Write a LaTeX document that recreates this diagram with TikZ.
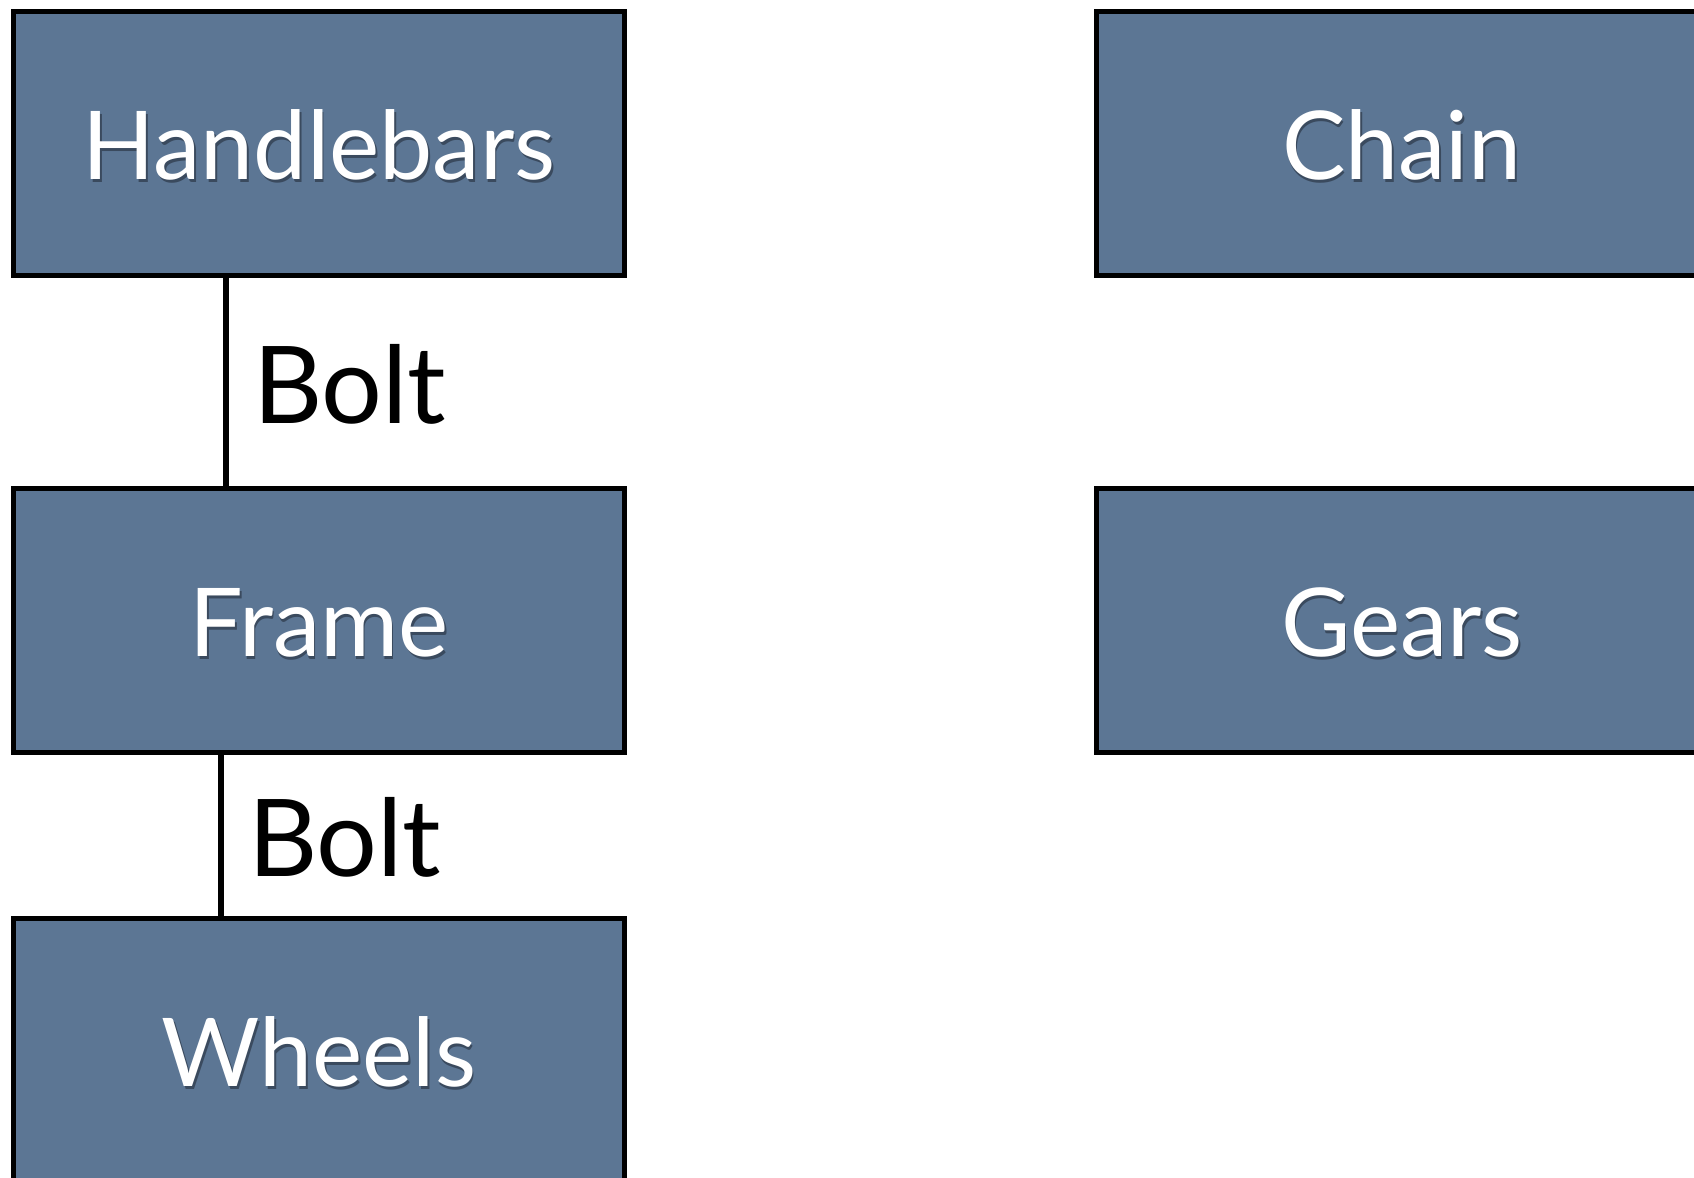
\documentclass[tikz,border=0pt]{standalone}
\usepackage{fontspec}
\setmainfont{Lato}
\usetikzlibrary{calc}

\definecolor{partblue}{RGB}{92,118,148}
\definecolor{partshade}{RGB}{58,74,94}

% white label with a small drop shadow
\newcommand{\shadetext}[1]{\makebox[0pt][l]{\hspace{0.8pt}\raisebox{-1.6pt}{\color{partshade}#1}}#1}

\tikzset{
	part/.style={draw=black, line width=2.5pt, fill=partblue, text=white,
		minimum width=305.5pt, minimum height=132pt, inner sep=0pt,
		text height=38pt, font=\fontsize{47.5}{50}\selectfont},
	joint/.style={line width=3pt},
	jointlabel/.style={anchor=west, inner sep=0pt, xshift=12pt, yshift=-1pt,
		font=\fontsize{53.7}{56}\selectfont}
}

\begin{document}
\begin{tikzpicture}[x=0.5pt,y=0.5pt,yscale=-1,xscale=1]
	\clip (0,0) rectangle (1694,1178);
	\fill[white] (0,0) rectangle (1694,1178);
	
	%Parts: left column
	\node[part] (handlebars) at (319,143.5) {\shadetext{Handlebars}};
	\node[part] (frame) at (319,620.5) {\shadetext{Frame}};
	\node[part] (wheels) at (319,1050.5) {\shadetext{Wheels}};
	%Parts: right column
	\node[part] (chain) at (1402,143.5) {\shadetext{Chain}};
	\node[part] (gears) at (1402,620.5) {\shadetext{Gears}};
	
	%Joints
	\draw[joint] ($(handlebars.south)+(-93,0)$) -- node[jointlabel] (bolt1) {Bolt} ($(frame.north)+(-93,0)$);
	\draw[joint] ($(frame.south)+(-98,0)$) -- node[jointlabel] (bolt2) {Bolt} ($(wheels.north)+(-98,0)$);
	
\end{tikzpicture}
\end{document}
